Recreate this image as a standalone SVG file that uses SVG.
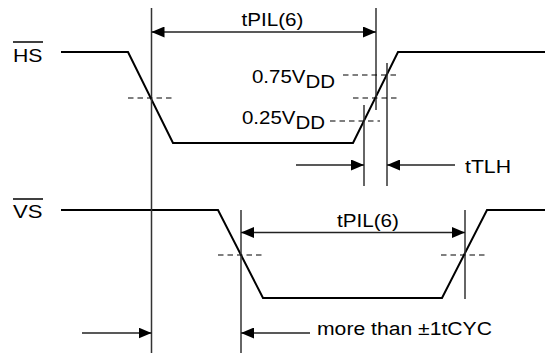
<svg xmlns="http://www.w3.org/2000/svg" width="545" height="354" viewBox="0 0 545 354">
<defs>
<marker id="ah" viewBox="0 0 13 11" refX="13" refY="5.5" markerWidth="13" markerHeight="11" markerUnits="userSpaceOnUse" orient="auto-start-reverse">
<path d="M0,0 L13,5.5 L0,11 z" fill="#000"/>
</marker>
</defs>
<style>
.sig{fill:none;stroke:#000;stroke-width:2;stroke-linejoin:miter}
.ref{fill:none;stroke:#333;stroke-width:1.5}
.dash{fill:none;stroke:#000;stroke-width:1.2;stroke-dasharray:5.5,4}
.arr{fill:none;stroke:#222;stroke-width:1.5}
.ol{stroke:#000;stroke-width:1.5}
text{font-family:"Liberation Sans",Arial,sans-serif;font-size:18px;fill:#000}
</style>
<rect width="545" height="354" fill="#fff"/>
<g id="node-hs">
<text x="13" y="62" textLength="29.5" lengthAdjust="spacingAndGlyphs">HS</text>
<line class="ol" x1="13" y1="42" x2="43" y2="42"/>
<polyline class="sig" points="61,52 128,52 173,143 353,143 398,52 545,52"/>
</g>
<g id="node-vs">
<text x="13" y="218" textLength="29.5" lengthAdjust="spacingAndGlyphs">VS</text>
<line class="ol" x1="13" y1="199" x2="43" y2="199"/>
<polyline class="sig" points="61,210 218,210 263,298 442,298 487,210 545,210"/>
</g>
<g id="connectors">
<line class="ref" x1="151.5" y1="8" x2="151.5" y2="353"/>
<line class="ref" x1="376" y1="8" x2="376" y2="110"/>
<line class="ref" x1="364" y1="105" x2="364" y2="186"/>
<line class="ref" x1="387" y1="63" x2="387" y2="186"/>
<line class="ref" x1="241" y1="210" x2="241" y2="353"/>
<line class="ref" x1="465" y1="210" x2="465" y2="299"/>
<line class="dash" x1="128" y1="98" x2="175" y2="98"/>
<line class="dash" x1="343" y1="75" x2="400" y2="75"/>
<line class="dash" x1="353" y1="98" x2="398" y2="98"/>
<line class="dash" x1="330" y1="121" x2="380" y2="121"/>
<line class="dash" x1="218" y1="255" x2="264" y2="255"/>
<line class="dash" x1="441" y1="255" x2="487" y2="255"/>
<line class="arr" x1="151.5" y1="32" x2="376" y2="32" marker-start="url(#ah)" marker-end="url(#ah)"/>
<line class="arr" x1="241" y1="232.5" x2="465" y2="232.5" marker-start="url(#ah)" marker-end="url(#ah)"/>
<line class="arr" x1="296" y1="165" x2="364" y2="165" marker-end="url(#ah)"/>
<line class="arr" x1="455" y1="165" x2="387" y2="165" marker-end="url(#ah)"/>
<line class="arr" x1="82" y1="333" x2="151.5" y2="333" marker-end="url(#ah)"/>
<line class="arr" x1="310" y1="333" x2="241" y2="333" marker-end="url(#ah)"/>
</g>
<g id="labels">
<text x="241.5" y="26" textLength="62" lengthAdjust="spacingAndGlyphs">tPIL(6)</text>
<text x="337" y="226.5" textLength="62" lengthAdjust="spacingAndGlyphs">tPIL(6)</text>
<text x="252" y="82.5" textLength="83" lengthAdjust="spacingAndGlyphs">0.75V<tspan dy="5">DD</tspan></text>
<text x="242" y="123.5" textLength="83" lengthAdjust="spacingAndGlyphs">0.25V<tspan dy="5.5">DD</tspan></text>
<text x="465" y="173" textLength="46" lengthAdjust="spacingAndGlyphs">tTLH</text>
<text x="317" y="335" textLength="175" lengthAdjust="spacingAndGlyphs">more than ±1tCYC</text>
</g>
</svg>
